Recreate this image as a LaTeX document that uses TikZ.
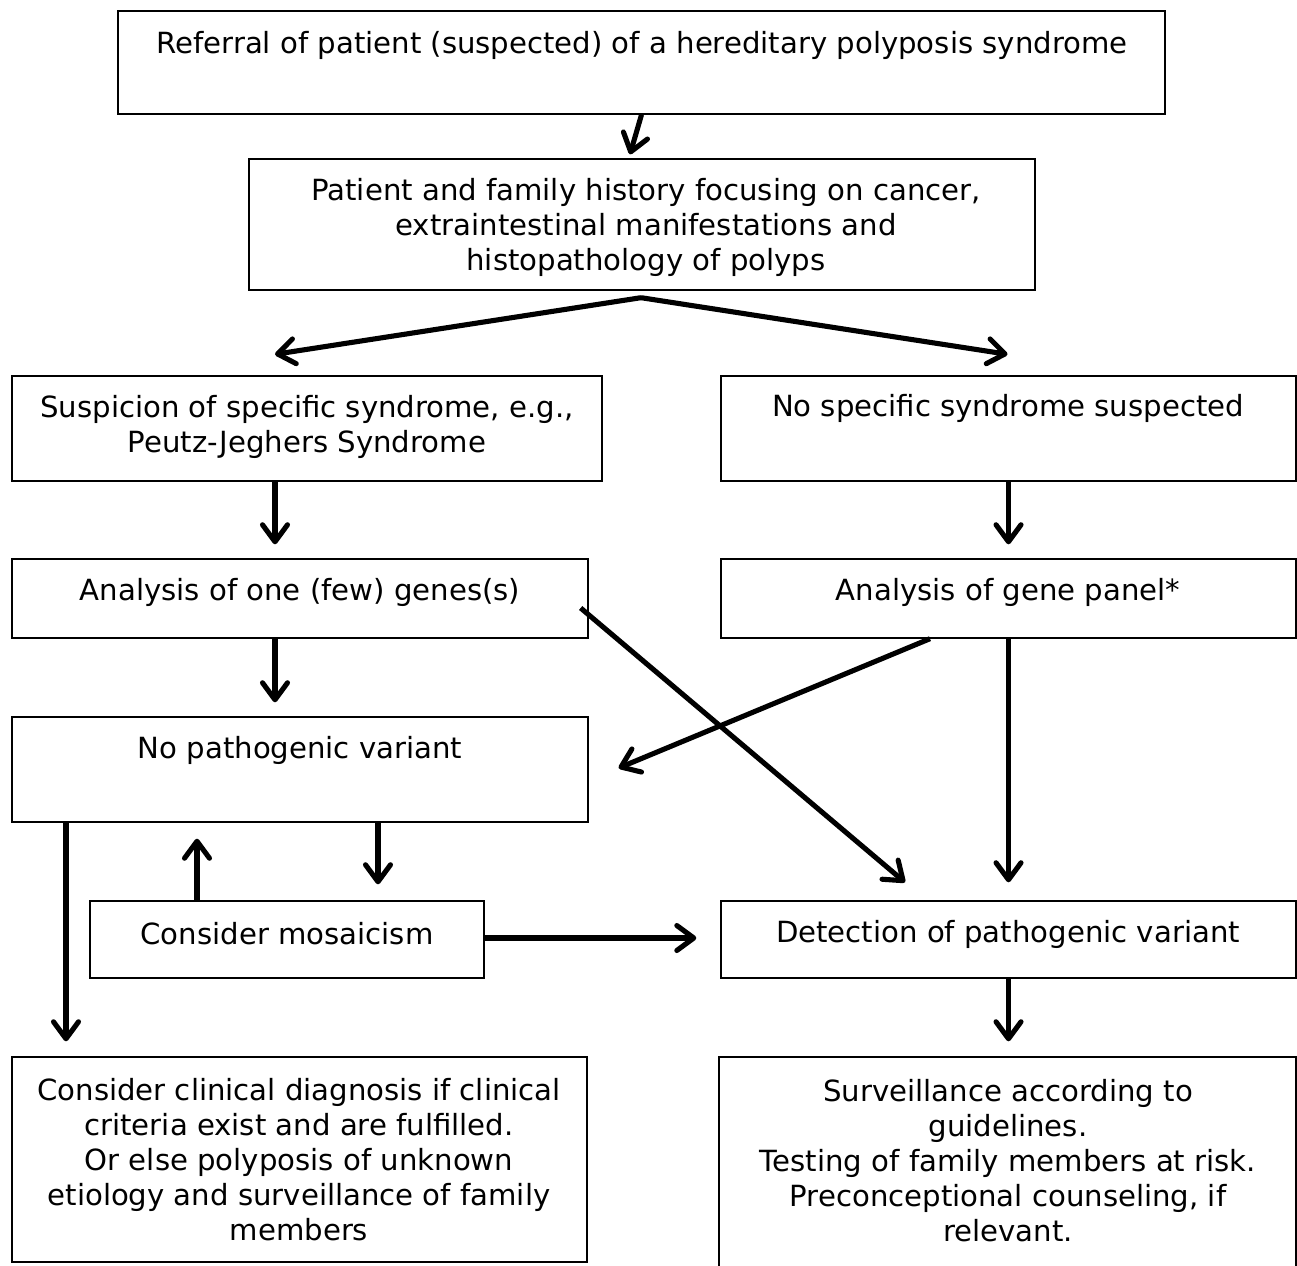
\documentclass[tikz,border=0pt]{standalone}
\usepackage{fontspec}
\setmainfont{DejaVu Sans}
\usetikzlibrary{positioning, arrows.meta}
\tikzstyle{box} = [draw, rectangle, line width=0.8pt, inner sep=0pt]
\tikzstyle{txt} = [align=center, inner sep=0pt,
    font=\fontsize{16.6}{19.9}\selectfont]
\tikzstyle{arr} = [line width=2.9pt,
    -{Straight Barb[length=0.34cm, width=0.5cm, round]}]

\begin{document}
\begin{tikzpicture}[x=0.02cm, y=-0.02cm]
        \useasboundingbox (0,0) rectangle (1297,1266);

        % boxes
        \node[box, minimum width=20.94cm, minimum height=2.06cm](ref) at (641.5,62.5){};
        \node[box, minimum width=15.72cm, minimum height=2.62cm](hist) at (642,224.5){};
        \node[box, minimum width=11.8cm, minimum height=2.1cm](susp) at (307,428.5){};
        \node[box, minimum width=11.5cm, minimum height=2.1cm](nospec) at (1008.5,428.5){};
        \node[box, minimum width=11.52cm, minimum height=1.58cm](one) at (300,598.5){};
        \node[box, minimum width=11.5cm, minimum height=1.58cm](panel) at (1008.5,598.5){};
        \node[box, minimum width=11.52cm, minimum height=2.1cm](nopat) at (300,769.5){};
        \node[box, minimum width=7.88cm, minimum height=1.54cm](mosaic) at (287,939.5){};
        \node[box, minimum width=11.5cm, minimum height=1.54cm](detect) at (1008.5,939.5){};
        \node[box, minimum width=11.5cm, minimum height=4.1cm](clin) at (299.5,1159.5){};
        \node[box, minimum width=11.54cm, minimum height=4.36cm](surv) at (1007.5,1166){};

        % texts
        \node[txt](reftxt) at (642,45){Referral of patient (suspected) of a hereditary polyposis syndrome};
        \node[txt](histtxt) at (646,227){Patient and family history focusing on cancer,\\
            extraintestinal manifestations and\\ histopathology of polyps};
        \node[txt](susptxt) at (307,427){Suspicion of specific syndrome, e.g.,\\ Peutz-Jeghers Syndrome};
        \node[txt](nospectxt) at (1008,408){No specific syndrome suspected};
        \node[txt](onetxt) at (300,592){Analysis of one (few) genes(s)};
        \node[txt](paneltxt) at (1008,592){Analysis of gene panel*};
        \node[txt](nopattxt) at (300,750){No pathogenic variant};
        \node[txt](mosaictxt) at (287,934){Consider mosaicism};
        \node[txt](detecttxt) at (1008,934){Detection of pathogenic variant};
        \node[txt](clintxt) at (299,1159.5){Consider clinical diagnosis if clinical\\
            criteria exist and are fulfilled.\\ Or else polyposis of unknown\\
            etiology and surveillance of family\\ members};
        \node[txt](survtxt) at (1008,1161){Surveillance according to\\ guidelines.\\
            Testing of family members at risk.\\ Preconceptional counseling, if\\ relevant.};

        % arrows
        \draw[arr] (ref.south) -- ([shift={(-12,-4)}]hist.north);
        \draw[arr] ([shift={(-1,7)}]hist.south) -- ([shift={(-32,-21)}]susp.north);
        \draw[arr] ([shift={(-1,7)}]hist.south) -- ([shift={(-1,-21)}]nospec.north);
        \draw[arr] ([shift={(-32,0)}]susp.south) -- ([shift={(-25,-14)}]one.north);
        \draw[arr] (nospec.south) -- ([shift={(0,-14)}]panel.north);
        \draw[arr] ([shift={(-25,0)}]one.south) -- ([shift={(-25,-14)}]nopat.north);
        \draw[arr] ([shift={(-8,9.5)}]one.east) -- ([shift={(-103.5,-18)}]detect.north);
        \draw[arr] ([shift={(-78.5,0)}]panel.south) -- ([shift={(30,-1.5)}]nopat.east);
        \draw[arr] (panel.south) -- ([shift={(0,-18)}]detect.north);
        \draw[arr] ([shift={(-234,0)}]nopat.south) -- ([shift={(-233.5,-15)}]clin.north);
        \draw[arr] ([shift={(-90,0)}]mosaic.north) -- ([shift={(-103,16)}]nopat.south);
        \draw[arr] ([shift={(78,0)}]nopat.south) -- ([shift={(91,-16)}]mosaic.north);
        \draw[arr] ([shift={(0,-1.5)}]mosaic.east) -- ([shift={(-24,-1.5)}]detect.west);
        \draw[arr] (detect.south) -- ([shift={(1,-15)}]surv.north);
    \end{tikzpicture}
\end{document}
